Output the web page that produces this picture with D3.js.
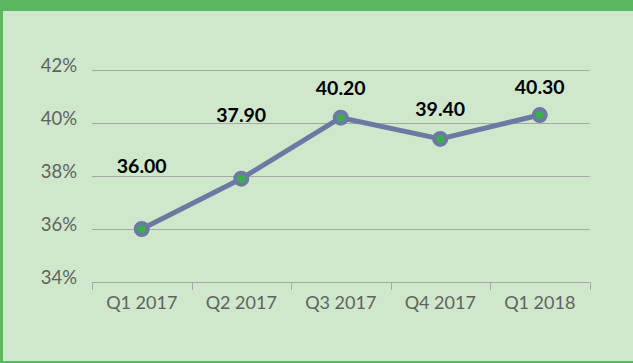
<!DOCTYPE html>
<html><head><meta charset="utf-8">
<script src="https://cdn.jsdelivr.net/npm/d3@7"></script>
<style>
html,body{margin:0;padding:0;background:#cfe7cb;}
svg{display:block;}
</style></head>
<body>
<svg id="chart" width="633" height="363"></svg>
<script>
const categories = ["Q1 2017","Q2 2017","Q3 2017","Q4 2017","Q1 2018"];
const values = [36.0, 37.9, 40.2, 39.4, 40.3];
const yTicks = [34, 36, 38, 40, 42];

const W = 633, H = 363;
const svg = d3.select("#chart");
// background and frame
svg.append("rect").attr("x",0).attr("y",0).attr("width",W).attr("height",H).attr("fill","#5cb85f");
svg.append("rect").attr("x",3).attr("y",11).attr("width",W-3).attr("height",H-13).attr("fill","#cfe7cb");

const x = d3.scaleBand().domain(categories).range([92, 589.5]).padding(0);
const y = d3.scaleLinear().domain([34, 42]).range([282, 70]);

// gridlines
svg.append("g").selectAll("line").data(yTicks.filter(t => t > 34)).join("line")
  .attr("x1", 92).attr("x2", 589.5)
  .attr("y1", d => Math.round(y(d)) + 0.5).attr("y2", d => Math.round(y(d)) + 0.5)
  .attr("stroke", "#a5a9a5").attr("stroke-width", 1);

// y labels
svg.append("g").selectAll("text").data(yTicks).join("text")
  .attr("x", 77).attr("y", d => y(d) - 5.5)
  .attr("text-anchor", "end").attr("dominant-baseline", "central")
  .attr("font-family", "Lato, sans-serif").attr("font-size", 18.5)
  .attr("fill", "#5f6360")
  .text(d => d + "%");

// x axis
const xAxis = d3.axisBottom(x).tickSize(0).tickPadding(14);
const gx = svg.append("g").attr("transform", "translate(0,282.5)").call(xAxis);
gx.select(".domain").attr("stroke", "#a5a9a5").attr("d", "M92,0H589.5");
gx.selectAll("text").attr("font-family", "Lato, sans-serif").attr("font-size", 18).attr("fill", "#5f6360");
// boundary ticks
const edges = categories.map(c => x(c)).concat([x(categories[categories.length-1]) + x.bandwidth()]);
svg.append("g").selectAll("line").data(edges).join("line")
  .attr("x1", d => Math.round(d) + 0.5).attr("x2", d => Math.round(d) + 0.5)
  .attr("y1", 282).attr("y2", 290)
  .attr("stroke", "#a5a9a5");

// line
const cx = d => x(d) + x.bandwidth() / 2;
const line = d3.line().x((d, i) => cx(categories[i])).y(d => y(d));
svg.append("path").datum(values).attr("d", line)
  .attr("fill", "none").attr("stroke", "#6b79a3").attr("stroke-width", 5)
  .attr("stroke-linejoin", "round");

svg.append("g").selectAll("circle").data(values).join("circle")
  .attr("cx", (d, i) => cx(categories[i])).attr("cy", d => y(d))
  .attr("r", 6).attr("fill", "#3cae4c").attr("stroke", "#6b79a3").attr("stroke-width", 4);

// data labels (first two lifted higher as in the source)
const labelLift = [64, 64, 30, 30, 29];
svg.append("g").selectAll("text").data(values).join("text")
  .attr("x", (d, i) => cx(categories[i]))
  .attr("y", (d, i) => y(d) - labelLift[i])
  .attr("text-anchor", "middle").attr("dominant-baseline", "central")
  .attr("font-family", "Lato, sans-serif").attr("font-weight", "bold").attr("font-size", 19.5)
  .attr("fill", "#000")
  .text(d => d.toFixed(2));
</script>
</body></html>
